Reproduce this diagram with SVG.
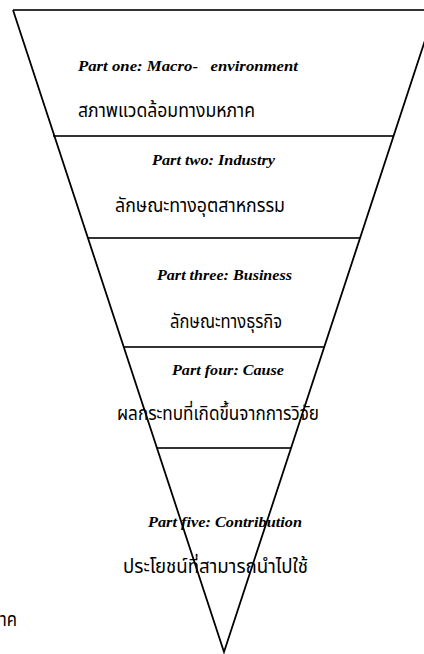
<svg xmlns="http://www.w3.org/2000/svg" width="424" height="654" viewBox="0 0 424 654">
<style>
.en{font-family:"Liberation Serif","Times New Roman",serif;font-weight:bold;font-style:italic;font-size:15.5px;fill:#000}
.th{font-family:"Noto Sans Thai","Noto Sans","DejaVu Sans",sans-serif;font-size:19px;fill:#000}
.side{stroke:#000;stroke-width:1.8;fill:none}
.div{stroke:#333;stroke-width:2;fill:none}
</style>
<rect width="424" height="654" fill="#fff"/>
<g id="part1">
<text class="en" x="78" y="71" textLength="220" lengthAdjust="spacingAndGlyphs" xml:space="preserve">Part one: Macro-   environment</text>
<text class="th" x="78" y="117" textLength="177" lengthAdjust="spacingAndGlyphs">สภาพแวดล้อมทางมหภาค</text>
</g>
<g id="part2">
<text class="en" x="152" y="165" textLength="123" lengthAdjust="spacingAndGlyphs">Part two: Industry</text>
<text class="th" x="115" y="212" textLength="170" lengthAdjust="spacingAndGlyphs">ลักษณะทางอุตสาหกรรม</text>
</g>
<g id="part3">
<text class="en" x="157" y="280" textLength="135" lengthAdjust="spacingAndGlyphs">Part three: Business</text>
<text class="th" x="170" y="328" textLength="112" lengthAdjust="spacingAndGlyphs">ลักษณะทางธุรกิจ</text>
</g>
<g id="part4">
<text class="en" x="172" y="375" textLength="112" lengthAdjust="spacingAndGlyphs">Part four: Cause</text>
<text class="th" x="117" y="420" textLength="202" lengthAdjust="spacingAndGlyphs">ผลกระทบที่เกิดขึ้นจากการวิจัย</text>
</g>
<g id="part5">
<text class="en" x="148" y="527" textLength="154" lengthAdjust="spacingAndGlyphs">Part five: Contribution</text>
<text class="th" x="123" y="573" textLength="185" lengthAdjust="spacingAndGlyphs">ประโยชน์ที่สามารถนำไปใช้</text>
</g>
<g id="fragment">
<text class="th" x="0" y="626" textLength="17" lengthAdjust="spacingAndGlyphs">าค</text>
</g>
<g id="connectors">
<line class="div" x1="13" y1="10" x2="424" y2="10"/>
<line class="div" x1="53" y1="136" x2="394" y2="136"/>
<line class="div" x1="88" y1="238" x2="360" y2="238"/>
<line class="div" x1="124" y1="347" x2="324" y2="347"/>
<line class="div" x1="157" y1="448" x2="291" y2="448"/>
<polyline class="side" points="13,10 224,652 435,10"/>
</g>
</svg>
